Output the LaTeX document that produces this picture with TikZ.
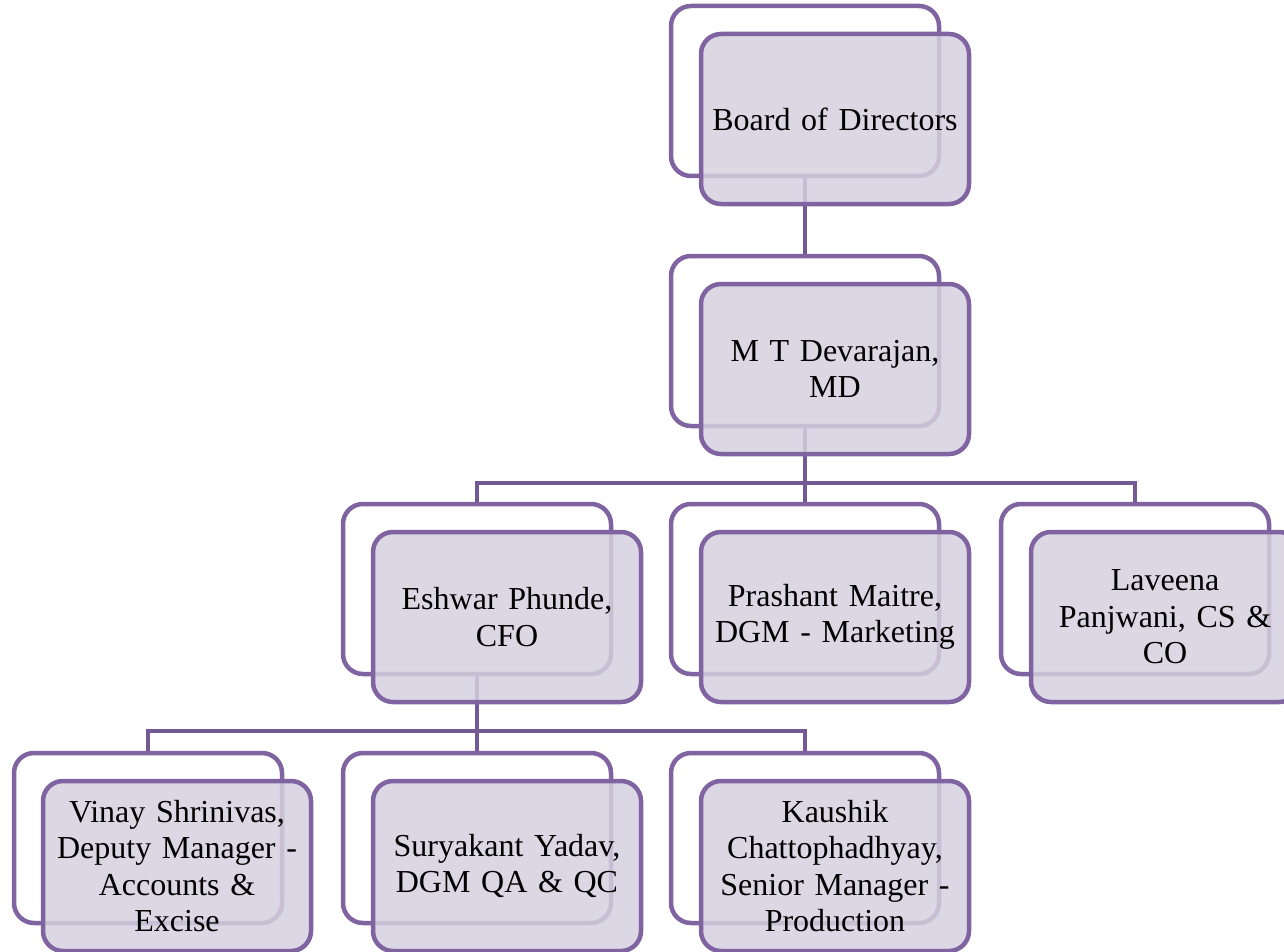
\documentclass[tikz,border=0pt]{standalone}
\usepackage{fontspec}
\setmainfont{Liberation Serif}
\usetikzlibrary{positioning}
\definecolor{boxline}{HTML}{8064A2}
\definecolor{linkline}{HTML}{745A95}
\definecolor{boxfill}{HTML}{D5D0DF}
\tikzset{
  back/.style={draw=boxline, line width=4.5pt, rounded corners=20pt, fill=white,
    minimum width=268pt, minimum height=170pt, inner sep=0pt},
  front/.style={draw=boxline, line width=4.5pt, rounded corners=20pt, fill=boxfill,
    fill opacity=0.85, text opacity=1, minimum width=268pt, minimum height=170pt,
    inner sep=0pt, align=center, text width=250pt,
    font=\fontsize{32}{36.5}\selectfont},
  link/.style={draw=linkline, line width=4pt}
}
\begin{document}
\begin{tikzpicture}[x=1pt,y=-1pt]
\useasboundingbox (0,0) rectangle (1284,952);
% outline cards behind each position
\node[back] (bo) at (805,91) {};
\node[back] (mo) at (805,341) {};
\node[back] (eo) at (477,589) {};
\node[back] (po) at (805,589) {};
\node[back] (lo) at (1135,589) {};
\node[back] (vo) at (148,838) {};
\node[back] (so) at (477,838) {};
\node[back] (ko) at (805,838) {};
% reporting lines
\coordinate (j1) at ([yshift=-55pt]mo.south);
\coordinate (j2) at ([yshift=-55pt]eo.south);
\draw[link] (bo.south) -- (mo.north);
\draw[link] (mo.south) -- (po.north);
\draw[link] (eo.north) |- (j1) -| (lo.north);
\draw[link] (eo.south) -- (so.north);
\draw[link] (vo.north) |- (j2) -| (ko.north);
% filled cards with names
\node[front] (b) at (835,119) {Board of Directors};
\node[front] (m) at (835,369) {M T Devarajan,\\ MD};
\node[front] (e) at (507,617) {Eshwar Phunde,\\ CFO};
\node[front] (p) at (835,617) {Prashant Maitre,\\ DGM - Marketing};
\node[front] (l) at (1165,617) {Laveena\\ Panjwani, CS \&\\ CO};
\node[front] (v) at (177,866) {Vinay Shrinivas,\\ Deputy Manager -\\ Accounts \&\\ Excise};
\node[front] (s) at (507,866) {Suryakant Yadav,\\ DGM QA \& QC};
\node[front] (k) at (835,866) {Kaushik\\ Chattophadhyay,\\ Senior Manager -\\ Production};
\end{tikzpicture}
\end{document}
